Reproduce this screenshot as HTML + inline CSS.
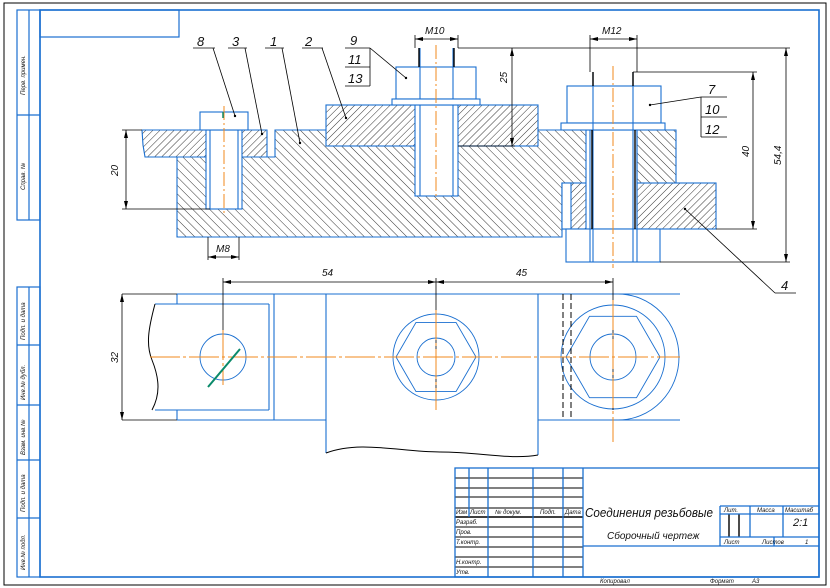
<!DOCTYPE html>
<html><head><meta charset="utf-8"><style>
html,body{margin:0;padding:0;background:#fff;width:830px;height:588px;overflow:hidden}
svg{display:block}
text{font-family:"Liberation Sans","DejaVu Sans",sans-serif;font-style:italic;fill:#111}
</style></head><body>
<svg width="830" height="588" viewBox="0 0 830 588" xmlns="http://www.w3.org/2000/svg">
<defs>
<pattern id="hb" patternUnits="userSpaceOnUse" width="6" height="6" patternTransform="rotate(-45)"><line x1="0" y1="0" x2="0" y2="6" stroke="#000" stroke-width="0.8"/></pattern>
<pattern id="hf" patternUnits="userSpaceOnUse" width="5" height="5" patternTransform="rotate(45)"><line x1="0" y1="0" x2="0" y2="5" stroke="#000" stroke-width="0.8"/></pattern>
</defs>
<g fill="none">
<rect x="4" y="3" width="822" height="582" stroke="#000" stroke-width="1"/>
<rect x="40" y="10" width="779" height="567" stroke="#1a6fd0" stroke-width="1.6"/>
<rect x="40" y="10" width="139" height="27" stroke="#1a6fd0" stroke-width="1.2"/>
<g stroke="#1a6fd0" stroke-width="1.2">
<rect x="17" y="10" width="23" height="210"/><line x1="29" y1="10" x2="29" y2="220"/><line x1="17" y1="115" x2="40" y2="115"/>
<rect x="17" y="287" width="23" height="290"/><line x1="29" y1="287" x2="29" y2="577"/>
<line x1="17" y1="345" x2="40" y2="345"/><line x1="17" y1="405" x2="40" y2="405"/><line x1="17" y1="460" x2="40" y2="460"/><line x1="17" y1="518" x2="40" y2="518"/>
</g>
</g>
<g font-size="6" fill="#333">
<text transform="translate(25,95) rotate(-90)">Перв. примен.</text>
<text transform="translate(25,190) rotate(-90)">Справ. №</text>
<text transform="translate(25,340) rotate(-90)">Подп. и дата</text>
<text transform="translate(25,400) rotate(-90)">Инв.№ дубл.</text>
<text transform="translate(25,455) rotate(-90)">Взам. инв.№</text>
<text transform="translate(25,512) rotate(-90)">Подп. и дата</text>
<text transform="translate(25,570) rotate(-90)">Инв.№ подл.</text>
</g>

<g stroke="#1a6fd0" stroke-width="1.1">
<path d="M177,157 L275,157 L275,130 L676,130 L676,183 L562,183 L562,237 L177,237 Z" fill="url(#hb)"/>
<path d="M142,130 L267,130 L267,157 L177,157 L145,157 L143,145 Z" fill="url(#hf)"/>
<rect x="326" y="105" width="212" height="41" fill="#fff" stroke="none"/>
<rect x="326" y="105" width="212" height="41" fill="url(#hf)"/>
<rect x="562" y="183" width="154" height="46" fill="url(#hf)"/>
<rect x="562" y="183" width="9" height="46" fill="#fff"/>
<rect x="206" y="130" width="36" height="79" fill="#fff"/>
<line x1="210" y1="130" x2="210" y2="209"/><line x1="238" y1="130" x2="238" y2="209"/>
<rect x="415" y="105" width="43" height="91" fill="#fff"/>
<line x1="420" y1="48" x2="420" y2="196"/><line x1="453" y1="48" x2="453" y2="196"/>
<rect x="586" y="130" width="51" height="99" fill="#fff"/>
<line x1="590" y1="130" x2="590" y2="262"/><line x1="637" y1="130" x2="637" y2="262"/>
<line x1="593" y1="72" x2="593" y2="262"/><line x1="633" y1="72" x2="633" y2="262"/>
<rect x="200" y="112" width="48" height="18" fill="#fff"/>
<rect x="396" y="67" width="80" height="32" fill="#fff"/>
<rect x="392" y="99" width="88" height="6" fill="#fff"/>
<line x1="420" y1="67" x2="420" y2="99"/><line x1="453" y1="67" x2="453" y2="99"/>
<rect x="567" y="86" width="94" height="37" fill="#fff"/>
<rect x="561" y="123" width="104" height="7" fill="#fff"/>
<line x1="593" y1="86" x2="593" y2="130"/><line x1="633" y1="86" x2="633" y2="130"/>
<rect x="566" y="229" width="94" height="33" fill="#fff"/>
<line x1="590" y1="229" x2="590" y2="262"/><line x1="637" y1="229" x2="637" y2="262"/>
<line x1="593" y1="229" x2="593" y2="262"/><line x1="633" y1="229" x2="633" y2="262"/>
</g>
<g stroke="#000" stroke-width="1.4"><line x1="592" y1="130" x2="592" y2="229"/><line x1="635" y1="130" x2="635" y2="229"/><line x1="419" y1="48" x2="419" y2="67"/><line x1="454" y1="48" x2="454" y2="67"/><line x1="593" y1="72" x2="593" y2="86"/><line x1="633" y1="72" x2="633" y2="86"/></g>
<g stroke="#f08a1c" stroke-width="1" stroke-dasharray="14,3,2,3">
<line x1="224" y1="106" x2="224" y2="215"/><line x1="436" y1="45" x2="436" y2="200"/><line x1="613" y1="66" x2="613" y2="268"/>
</g>
<line x1="223" y1="112" x2="223" y2="118" stroke="#0a8a6a" stroke-width="1.5"/>
<g stroke="#000" stroke-width="0.8" fill="none">
<line x1="458" y1="48" x2="790" y2="48"/><line x1="512" y1="48" x2="512" y2="146"/><line x1="458" y1="146" x2="515" y2="146"/>
<line x1="786" y1="48" x2="786" y2="262"/><line x1="660" y1="262" x2="790" y2="262"/>
<line x1="633" y1="72" x2="757" y2="72"/><line x1="753" y1="72" x2="753" y2="229"/><line x1="716" y1="229" x2="757" y2="229"/>
<line x1="415" y1="35" x2="415" y2="48"/><line x1="458" y1="35" x2="458" y2="48"/><line x1="415" y1="39" x2="458" y2="39"/>
<line x1="590" y1="35" x2="590" y2="72"/><line x1="637" y1="35" x2="637" y2="72"/><line x1="590" y1="39" x2="637" y2="39"/>
<line x1="122" y1="130" x2="142" y2="130"/><line x1="122" y1="209" x2="210" y2="209"/><line x1="126" y1="130" x2="126" y2="209"/>
<line x1="208" y1="237" x2="208" y2="260"/><line x1="239" y1="237" x2="239" y2="260"/><line x1="208" y1="257" x2="239" y2="257"/>
<line x1="193" y1="48" x2="215" y2="48"/><line x1="213" y1="48" x2="235" y2="116"/>
<line x1="228" y1="48" x2="247" y2="48"/><line x1="245" y1="48" x2="262" y2="134"/>
<line x1="265" y1="48" x2="284" y2="48"/><line x1="282" y1="48" x2="300" y2="143"/>
<line x1="302" y1="48" x2="323" y2="48"/><line x1="322" y1="48" x2="346" y2="118"/>
<line x1="345" y1="48" x2="370" y2="48"/><line x1="370" y1="48" x2="370" y2="86"/><line x1="345" y1="67" x2="370" y2="67"/><line x1="345" y1="86" x2="370" y2="86"/><line x1="370" y1="48" x2="406" y2="78"/>
<line x1="701" y1="97" x2="727" y2="97"/><line x1="701" y1="97" x2="701" y2="137"/><line x1="701" y1="117" x2="727" y2="117"/><line x1="701" y1="137" x2="727" y2="137"/><line x1="701" y1="97" x2="650" y2="105"/>
<line x1="685" y1="209" x2="775" y2="293"/><line x1="775" y1="293" x2="796" y2="293"/>
</g>
<g fill="#000">
<path d="M512,48 l-2,8 h4z M512,146 l-2,-8 h4z M786,48 l-2,8 h4z M786,262 l-2,-8 h4z M753,72 l-2,8 h4z M753,229 l-2,-8 h4z M126,130 l-2,8 h4z M126,209 l-2,-8 h4z"/>
<path d="M415,39 l8,-2 v4z M458,39 l-8,-2 v4z M590,39 l8,-2 v4z M637,39 l-8,-2 v4z M208,257 l8,-2 v4z M239,257 l-8,-2 v4z"/>
<circle cx="235" cy="116" r="1.2"/><circle cx="262" cy="134" r="1.2"/><circle cx="300" cy="143" r="1.2"/><circle cx="346" cy="118" r="1.2"/><circle cx="406" cy="78" r="1.2"/><circle cx="650" cy="105" r="1.2"/><circle cx="685" cy="209" r="1.2"/>
</g>
<g font-size="13">
<text x="197" y="46">8</text><text x="232" y="46">3</text><text x="270" y="46">1</text><text x="305" y="46">2</text>
<text x="350" y="45">9</text><text x="348" y="64">11</text><text x="348" y="83">13</text>
<text x="708" y="94">7</text><text x="705" y="114">10</text><text x="705" y="134">12</text>
<text x="781" y="290">4</text>
</g>
<g font-size="10">
<text x="425" y="34">M10</text><text x="602" y="34">M12</text><text x="216" y="252">M8</text>
<text transform="translate(118,176) rotate(-90)">20</text>
<text transform="translate(507,83) rotate(-90)">25</text>
<text transform="translate(749,157) rotate(-90)">40</text>
<text transform="translate(781,165) rotate(-90)">54,4</text>
<text x="322" y="276">54</text><text x="516" y="276">45</text>
<text transform="translate(118,363) rotate(-90)">32</text>
</g>

<g stroke="#1a6fd0" stroke-width="1.1" fill="none">
<line x1="177" y1="294" x2="680" y2="294"/><line x1="177" y1="420" x2="326" y2="420"/><line x1="538" y1="420" x2="680" y2="420"/>
<line x1="177" y1="294" x2="177" y2="304"/><line x1="177" y1="410" x2="177" y2="420"/>
<line x1="155" y1="304" x2="269" y2="304"/><line x1="155" y1="410" x2="269" y2="410"/><line x1="269" y1="304" x2="269" y2="410"/>
<line x1="274" y1="294" x2="274" y2="420"/>
<line x1="326" y1="294" x2="326" y2="453"/><line x1="538" y1="294" x2="538" y2="455"/>
<circle cx="223" cy="357" r="23" stroke-width="0.9"/>
<circle cx="436" cy="357" r="43" stroke-width="0.9"/>
<polygon points="476,357 456,322.4 416,322.4 396,357 416,391.6 456,391.6" stroke-width="0.9"/>
<circle cx="436" cy="357" r="19" stroke-width="0.9"/>
<circle cx="613" cy="357" r="52" stroke-width="0.9"/>
<polygon points="660,357 636.5,316.3 589.5,316.3 566,357 589.5,397.7 636.5,397.7" stroke-width="0.9"/>
<circle cx="613" cy="357" r="23" stroke-width="0.9"/>
<path d="M618,294 A61,63 0 0 1 618,420" stroke-width="0.9"/>
</g>
<g stroke="#000" stroke-width="1" fill="none">
<path d="M155,304 C148,330 146,345 152,360 C160,380 160,395 152,410"/>
<path d="M326,453 C360,440 400,452 440,452 C480,452 510,460 538,455"/>
<line x1="563" y1="294" x2="563" y2="420" stroke-dasharray="6,3"/><line x1="571" y1="294" x2="571" y2="420" stroke-dasharray="6,3"/>
<line x1="122" y1="294" x2="177" y2="294" stroke-width="0.8"/><line x1="122" y1="420" x2="177" y2="420" stroke-width="0.8"/><line x1="122" y1="294" x2="122" y2="420" stroke-width="0.8"/>
<line x1="223" y1="278" x2="223" y2="357" stroke-width="0.8"/><line x1="436" y1="278" x2="436" y2="400" stroke-width="0.8"/><line x1="613" y1="278" x2="613" y2="410" stroke-width="0.8"/>
<line x1="223" y1="282" x2="613" y2="282" stroke-width="0.8"/>
</g>
<g fill="#000"><path d="M122,294 l-2,8 h4z M122,420 l-2,-8 h4z M223,282 l8,-2 v4z M436,282 l-8,-2 v4z M436,282 l8,-2 v4z M613,282 l-8,-2 v4z"/></g>
<g stroke="#f08a1c" stroke-width="1" stroke-dasharray="30,3,3,3">
<line x1="150" y1="357" x2="680" y2="357"/><line x1="223" y1="330" x2="223" y2="385"/><line x1="436" y1="310" x2="436" y2="410"/><line x1="613" y1="300" x2="613" y2="442"/>
</g>
<line x1="208" y1="387" x2="240" y2="349" stroke="#0a8a6a" stroke-width="2"/>

<g stroke="#000" stroke-width="1">
<line x1="455" y1="478" x2="583" y2="478"/><line x1="455" y1="488" x2="583" y2="488"/><line x1="455" y1="497" x2="583" y2="497"/><line x1="455" y1="508" x2="583" y2="508"/>
<line x1="455" y1="517" x2="583" y2="517" stroke-width="1.4"/><line x1="455" y1="527" x2="583" y2="527"/><line x1="455" y1="537" x2="583" y2="537"/><line x1="455" y1="547" x2="583" y2="547"/><line x1="455" y1="557" x2="583" y2="557"/><line x1="455" y1="567" x2="583" y2="567"/>
<line x1="729" y1="514" x2="729" y2="537" stroke-width="1.4"/><line x1="739" y1="514" x2="739" y2="537" stroke-width="1.4"/>
</g>
<g stroke="#1a6fd0" stroke-width="1.3" fill="none">
<rect x="455" y="468" width="364" height="109"/>
<line x1="469" y1="468" x2="469" y2="517"/><line x1="488" y1="468" x2="488" y2="577"/><line x1="533" y1="468" x2="533" y2="577"/><line x1="563" y1="468" x2="563" y2="577"/><line x1="583" y1="468" x2="583" y2="577"/>
<line x1="583" y1="546" x2="819" y2="546"/><line x1="720" y1="506" x2="819" y2="506"/><line x1="720" y1="506" x2="720" y2="546"/>
<line x1="720" y1="514" x2="819" y2="514"/><line x1="720" y1="537" x2="819" y2="537"/>
<line x1="750" y1="506" x2="750" y2="537"/><line x1="783" y1="506" x2="783" y2="537"/><line x1="774" y1="537" x2="774" y2="546"/>
</g>
<g font-size="6" fill="#222">
<text x="456" y="514">Изм</text><text x="470" y="514">Лист</text><text x="495" y="514">№ докум.</text><text x="540" y="514">Подп.</text><text x="565" y="514">Дата</text>
<text x="456" y="524">Разраб.</text><text x="456" y="534">Пров.</text><text x="456" y="544">Т.контр.</text><text x="456" y="564">Н.контр.</text><text x="456" y="574">Утв.</text>
<text x="724" y="512">Лит.</text><text x="757" y="512">Масса</text><text x="785" y="512">Масштаб</text>
<text x="724" y="544">Лист</text><text x="762" y="544">Листов</text><text x="805" y="544">1</text>
<text x="600" y="583">Копировал</text><text x="710" y="583">Формат</text><text x="752" y="583">А3</text>
</g>
<text x="585" y="517" font-size="13" fill="#222" textLength="128" lengthAdjust="spacingAndGlyphs">Соединения резьбовые</text>
<text x="607" y="539" font-size="10" fill="#222">Сборочный чертеж</text>
<text x="793" y="526" font-size="11" fill="#222">2:1</text>
</svg>
</body></html>
